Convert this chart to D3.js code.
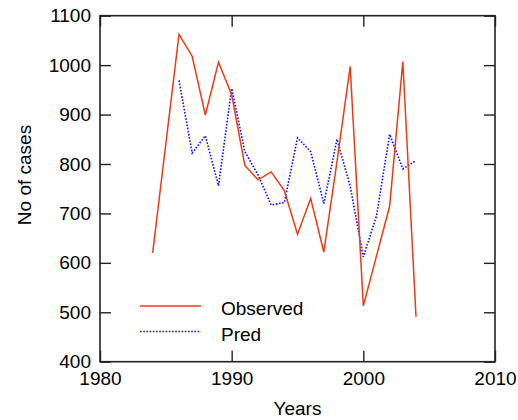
<!DOCTYPE html>
<html>
<head>
<meta charset="utf-8">
<title>Observed vs Pred</title>
<script src="https://d3js.org/d3.v7.min.js"></script>
<style>
  body { margin: 0; background: #fff; }
  text { font-family: "Liberation Sans", Arial, sans-serif; fill: #000; }
  .axis text { font-size: 19px; }
  .axis line { stroke: #222; stroke-width: 1.4px; }
</style>
</head>
<body>
<div id="chart"></div>
<script>
// data
var obsYears = [1984, 1985, 1986, 1987, 1988, 1989, 1990, 1991, 1992, 1993, 1994,
                1995, 1996, 1997, 1998, 1999, 2000, 2001, 2002, 2003, 2004];
var obsValues = [620, 841, 1062, 1018, 899, 1006, 940, 797, 768, 784, 746,
                 658, 730, 622, 805, 997, 513, 614, 715, 1007, 491];

var predYears = [1986, 1987, 1988, 1989, 1990, 1991, 1992, 1993, 1994, 1995,
                 1996, 1997, 1998, 1999, 2000, 2001, 2002, 2003, 2004];
var predValues = [969, 822, 857, 756, 953, 825, 778, 717, 722, 853,
                  825, 720, 850, 755, 612, 695, 860, 790, 807];

var xTicks = [1980, 1990, 2000, 2010];
var yTicks = [400, 500, 600, 700, 800, 900, 1000, 1100];

var W = 518, H = 420;
var margin = {top: 15.7, right: 23, bottom: 58.3, left: 100};

var svg = d3.select("#chart")
    .append("svg")
    .attr("width", W)
    .attr("height", H);

var x = d3.scaleLinear()
    .domain([1980, 2010])
    .range([margin.left, W - margin.right]);

var y = d3.scaleLinear()
    .domain([400, 1100])
    .range([H - margin.bottom, margin.top]);

// ticks point inwards on all four sides
svg.append("g")
    .attr("class", "axis")
    .attr("transform", "translate(0," + y(400) + ")")
    .call(d3.axisBottom(x).tickValues(xTicks).tickFormat(d3.format("d"))
      .tickSizeInner(-11).tickSizeOuter(0).tickPadding(10))
    .select(".domain").remove();

svg.append("g")
    .attr("class", "axis")
    .attr("transform", "translate(0," + y(1100) + ")")
    .call(d3.axisTop(x).tickValues(xTicks).tickFormat("")
      .tickSizeInner(-11).tickSizeOuter(0))
    .select(".domain").remove();

svg.append("g")
    .attr("class", "axis")
    .attr("transform", "translate(" + x(1980) + ",0)")
    .call(d3.axisLeft(y).tickValues(yTicks).tickFormat(d3.format("d"))
      .tickSizeInner(-11).tickSizeOuter(0).tickPadding(9))
    .select(".domain").remove();

svg.append("g")
    .attr("class", "axis")
    .attr("transform", "translate(" + x(2010) + ",0)")
    .call(d3.axisRight(y).tickValues(yTicks).tickFormat("")
      .tickSizeInner(-11).tickSizeOuter(0))
    .select(".domain").remove();

// frame
svg.append("rect")
    .attr("x", x(1980))
    .attr("y", y(1100))
    .attr("width", x(2010) - x(1980))
    .attr("height", y(400) - y(1100))
    .attr("fill", "none")
    .attr("stroke", "#222")
    .attr("stroke-width", 1.6);

var line = d3.line()
    .x(function(d) { return x(d[0]); })
    .y(function(d) { return y(d[1]); });

var obs = obsYears.map(function(yr, i) { return [yr, obsValues[i]]; });
var pred = predYears.map(function(yr, i) { return [yr, predValues[i]]; });

svg.append("path")
    .datum(pred)
    .attr("d", line)
    .attr("fill", "none")
    .attr("stroke", "#1010ff")
    .attr("stroke-width", 1.6)
    .attr("stroke-dasharray", "1.6,1.6");

svg.append("path")
    .datum(obs)
    .attr("d", line)
    .attr("fill", "none")
    .attr("stroke", "#ea3a16")
    .attr("stroke-width", 1.5);

// legend
var legend = [
  {name: "Observed", color: "#ea3a16", dash: null, y: 306},
  {name: "Pred", color: "#1010ff", dash: "1.6,1.6", y: 331.5}
];
var lg = svg.append("g");
lg.selectAll("line")
    .data(legend)
  .enter().append("line")
    .attr("x1", 140).attr("x2", 201)
    .attr("y1", function(d) { return d.y; })
    .attr("y2", function(d) { return d.y; })
    .attr("stroke", function(d) { return d.color; })
    .attr("stroke-width", 1.5)
    .attr("stroke-dasharray", function(d) { return d.dash; });
lg.selectAll("text")
    .data(legend)
  .enter().append("text")
    .attr("x", 221)
    .attr("y", function(d) { return d.y + 9; })
    .style("font-size", "19px")
    .text(function(d) { return d.name; });

// axis titles
svg.append("text")
    .attr("x", (x(1980) + x(2010)) / 2)
    .attr("y", 415)
    .attr("text-anchor", "middle")
    .style("font-size", "19px")
    .text("Years");

svg.append("text")
    .attr("transform", "translate(31,175) rotate(-90)")
    .attr("text-anchor", "middle")
    .style("font-size", "19px")
    .text("No of cases");
</script>
</body>
</html>
